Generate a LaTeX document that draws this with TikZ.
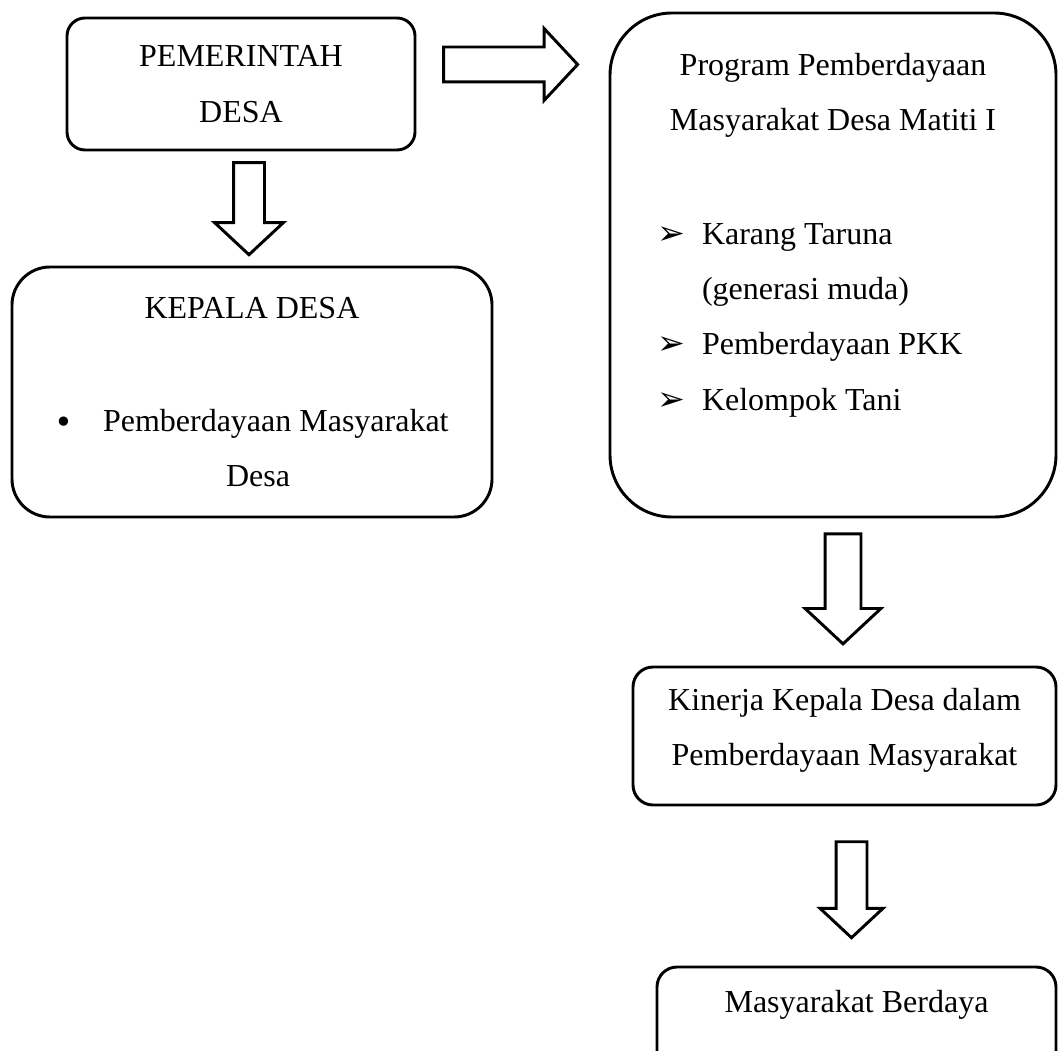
\documentclass[tikz,border=0pt]{standalone}
\usepackage{fontspec}
\setmainfont{Liberation Serif}
\newfontfamily\dejavu{DejaVu Sans}
\usetikzlibrary{shapes,arrows}
\usetikzlibrary{positioning}

\tikzstyle{block} = [rectangle, draw, line width=1.1pt, align=center,
    font=\fontsize{12pt}{20.7pt}\selectfont]
\tikzstyle{bigarrow} = [single arrow, draw, line width=1.1pt, inner xsep=0pt,
    single arrow tip angle=94]

\newcommand{\listarrow}{\makebox[16.875pt][l]{\dejavu\fontsize{12.5pt}{12.5pt}\selectfont ➢}}
\newcommand{\listdot}{\makebox[17.25pt][l]{\hspace*{-1pt}\raisebox{-0.8pt}{\dejavu •}}}

\begin{document}
\begin{tikzpicture}[x=0.375pt, y=-0.375pt]
    \useasboundingbox (0,0) rectangle (1059,1051);
    \clip (0,0) rectangle (1059,1051);
    % Place nodes
    \node [block, rounded corners=6.75pt, minimum width=130.5pt, minimum height=49.5pt] (pemdes) at (241,84) {PEMERINTAH\\DESA};
    \node [block, rounded corners=14.25pt, minimum width=180pt, minimum height=93.75pt] (kades) at (252,392)
        {KEPALA DESA\\[21.7pt]
         \makebox[146.25pt][l]{\listdot Pemberdayaan Masyarakat}\\
         \hspace*{4.5pt}Desa};
    \node [block, rounded corners=23.25pt, minimum width=167.25pt, minimum height=189pt] (program) at (833,265)
        {Program Pemberdayaan\\Masyarakat Desa Matiti I\\[22pt]
         \makebox[132pt][l]{\listarrow Karang Taruna}\\
         \makebox[132pt][l]{\hspace*{16.875pt}(generasi muda)}\\
         \makebox[132pt][l]{\listarrow Pemberdayaan PKK}\\
         \makebox[132pt][l]{\listarrow Kelompok Tani\rule[-25pt]{0pt}{0pt}}};
    \node [block, rounded corners=7.5pt, minimum width=158.625pt, minimum height=51.75pt] (kinerja) at (844.5,736)
        {Kinerja Kepala Desa dalam\\Pemberdayaan Masyarakat\rule[-7pt]{0pt}{0pt}};
    \node [block, rounded corners=7.5pt, minimum width=149.625pt, minimum height=52.5pt] (berdaya) at (856.5,1037)
        {Masyarakat Berdaya\rule[-27pt]{0pt}{0pt}};

    % Draw arrows
    \node [bigarrow, inner ysep=6pt, minimum height=50.25pt, single arrow head extend=6.94pt] (toprog) at (502.5,64.5) {};
    \node [bigarrow, rotate=-90, inner ysep=5.25pt, minimum height=34.5pt, single arrow head extend=7.125pt] (tokades) at (249,201.5) {};
    \node [bigarrow, rotate=-90, inner ysep=6.19pt, minimum height=41.25pt, single arrow head extend=7.5pt] (tokinerja) at (843,580.5) {};
    \node [bigarrow, rotate=-90, inner ysep=5.25pt, minimum height=36pt, single arrow head extend=6pt] (toberdaya) at (851.5,882.5) {};
\end{tikzpicture}
\end{document}
